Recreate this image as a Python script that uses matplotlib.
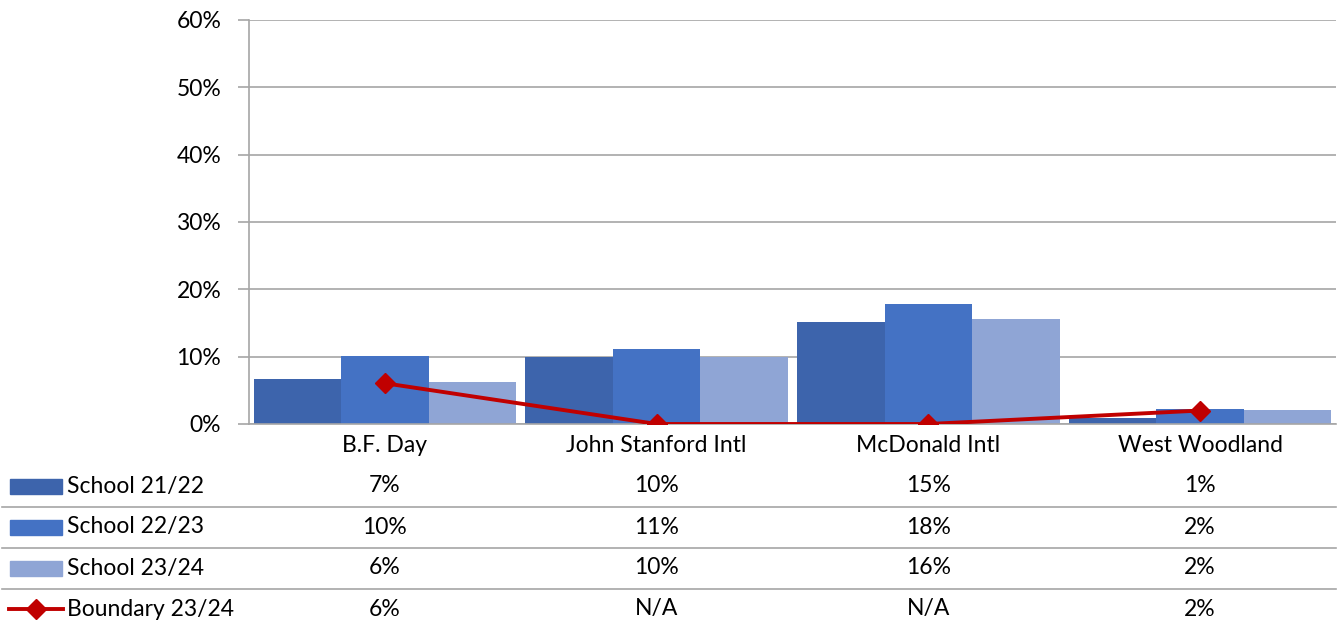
import numpy as np
import matplotlib
matplotlib.use("Agg")
import matplotlib.pyplot as plt
from matplotlib.patches import Rectangle
from matplotlib.lines import Line2D
from matplotlib.transforms import blended_transform_factory

plt.rcParams["font.family"] = ["Lato", "DejaVu Sans"]

schools = ["B.F. Day", "John Stanford Intl", "McDonald Intl", "West Woodland"]
school_2122 = [6.7, 9.9, 15.2, 0.9]
school_2223 = [10.1, 11.1, 17.8, 2.2]
school_2324 = [6.2, 9.9, 15.6, 2.1]
boundary_2324 = [6.05, np.nan, np.nan, 2.0]   # N/A plotted as zero
yticks = [0, 10, 20, 30, 40, 50, 60]

bar_series = [
    ("School 21/22", school_2122, "#3D64AC"),
    ("School 22/23", school_2223, "#4472C4"),
    ("School 23/24", school_2324, "#8FA5D5"),
]
line_color = "#C00000"
grid_color = "#A6A6A6"
fs = 16.5

fig = plt.figure(figsize=(13.41, 6.24), dpi=100)
ax = fig.add_axes([249 / 1341, 1 - 424 / 624, 1087 / 1341, 404 / 624])

x = np.arange(len(schools))
w = 0.322
for i, (name, vals, col) in enumerate(bar_series):
    ax.bar(x + (i - 1) * w, vals, width=w, color=col, zorder=2)

ax.plot(x, np.nan_to_num(boundary_2324), color=line_color, linewidth=2.8,
        marker="D", markersize=10, zorder=3)

ax.set_xlim(-0.5, len(schools) - 0.5)
ax.set_ylim(0, 60)
ax.set_yticks(yticks)
ax.set_yticklabels([f"{t}%" for t in yticks], fontsize=fs)
ax.yaxis.grid(True, color=grid_color, linewidth=1.2, zorder=0)
ax.set_axisbelow(True)
ax.tick_params(axis="y", length=8, width=1.2, color=grid_color, pad=12)
ax.set_xticks(x)
ax.set_xticklabels(schools, fontsize=fs)
ax.tick_params(axis="x", length=0, pad=8)
for s in ["top", "right"]:
    ax.spines[s].set_visible(False)
ax.spines["left"].set_color(grid_color)
ax.spines["bottom"].set_color(grid_color)
ax.spines["left"].set_linewidth(1.2)
ax.spines["bottom"].set_linewidth(1.2)

# data table under the chart
trans = blended_transform_factory(ax.transData, fig.transFigure)
row_y = [486, 527, 568, 609]
sep_y = [507, 548, 589]
rows = [(name, vals) for name, vals, _ in bar_series] + [("Boundary 23/24", boundary_2324)]
for (name, vals), ry in zip(rows, row_y):
    yf = 1 - ry / 624
    fig.text(67 / 1341, yf, name, fontsize=fs, va="center", ha="left")
    for xi, v in zip(x, vals):
        lab = "N/A" if np.isnan(v) else f"{v:.0f}%"
        ax.text(xi, yf, lab, transform=trans, fontsize=fs, va="center", ha="center")

for sy in sep_y:
    fig.add_artist(Line2D([2 / 1341, 1336 / 1341], [1 - sy / 624] * 2,
                          color=grid_color, linewidth=1.2))

for (name, vals, col), ry in zip(bar_series, row_y):
    fig.add_artist(Rectangle((10 / 1341, 1 - (ry + 7.5) / 624), 52 / 1341, 15 / 624,
                             color=col, transform=fig.transFigure))
ky = 1 - row_y[3] / 624
fig.add_artist(Line2D([9 / 1341, 63 / 1341], [ky, ky], color=line_color, linewidth=2.8))
fig.add_artist(Line2D([36 / 1341], [ky], color=line_color, marker="D", markersize=10))

fig.savefig("out.png", dpi=100)
